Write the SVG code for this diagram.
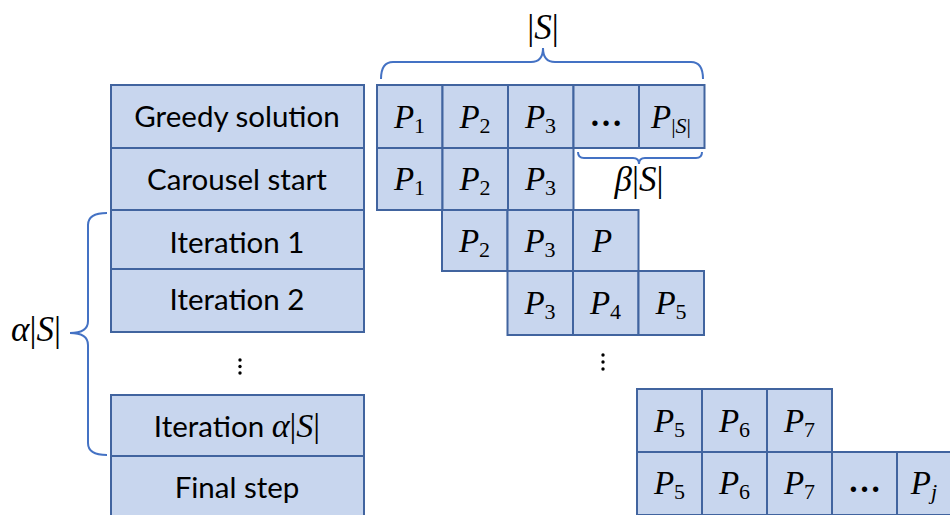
<svg xmlns="http://www.w3.org/2000/svg" width="950" height="515" viewBox="0 0 950 515">
<style>
.box{fill:#C8D6EE;stroke:#41649F;stroke-width:2}
.lbl{font-family:Lato,"Open Sans",sans-serif;font-size:29.5px;fill:#000;text-anchor:middle}
.m{font-family:"Liberation Serif",serif;font-size:33px;fill:#000;text-anchor:middle}
.big{font-size:35px}
.i{font-style:italic}
.s{font-size:22px}
.brace{fill:none;stroke:#4472C4;stroke-width:2}
.dots{fill:#000}
</style>
<rect width="950" height="515" fill="#fff"/>
<g id="left-column">
<g id="greedy"><rect class="box" x="111" y="85" width="253" height="63"/><text class="lbl" x="237" y="127">Greedy solution</text></g>
<g id="carousel"><rect class="box" x="111" y="148" width="253" height="62"/><text class="lbl" x="237" y="190">Carousel start</text></g>
<g id="iter1"><rect class="box" x="111" y="210" width="253" height="59"/><text class="lbl" x="237" y="253">Iteration 1</text></g>
<g id="iter2"><rect class="box" x="111" y="269" width="253" height="63"/><text class="lbl" x="237" y="310">Iteration 2</text></g>
<g id="iterA"><rect class="box" x="111" y="395" width="253" height="61"/><text class="lbl" x="237" y="437">Iteration <tspan font-family="Liberation Serif" font-style="italic" font-size="34">α</tspan><tspan font-family="Liberation Serif" font-size="34">|</tspan><tspan font-family="Liberation Serif" font-style="italic" font-size="34">S</tspan><tspan font-family="Liberation Serif" font-size="34">|</tspan></text></g>
<g id="final"><rect class="box" x="111" y="456" width="253" height="62"/><text class="lbl" x="237" y="498">Final step</text></g>
<g id="vdots-left"><circle class="dots" cx="240" cy="360" r="1.7"/><circle class="dots" cx="240" cy="366.5" r="1.7"/><circle class="dots" cx="240" cy="373" r="1.7"/></g>
</g>
<g id="grid">
<g id="row1">
<rect class="box" x="377" y="85" width="65.5" height="63"/><text class="m" x="409.5" y="128"><tspan class="i">P</tspan><tspan class="s" dy="5">1</tspan></text>
<rect class="box" x="442.5" y="85" width="65.5" height="63"/><text class="m" x="475" y="128"><tspan class="i">P</tspan><tspan class="s" dy="5">2</tspan></text>
<rect class="box" x="508" y="85" width="65.5" height="63"/><text class="m" x="540.5" y="128"><tspan class="i">P</tspan><tspan class="s" dy="5">3</tspan></text>
<rect class="box" x="573.5" y="85" width="65.5" height="63"/><text class="m" x="606" y="126" font-size="24" font-weight="bold">…</text>
<rect class="box" x="639" y="85" width="65.5" height="63"/><text class="m" x="671" y="128"><tspan class="i">P</tspan><tspan class="s" dy="5">|</tspan><tspan class="s i">S</tspan><tspan class="s">|</tspan></text>
</g>
<g id="row2">
<rect class="box" x="377" y="148" width="65.5" height="62"/><text class="m" x="409.5" y="190"><tspan class="i">P</tspan><tspan class="s" dy="5">1</tspan></text>
<rect class="box" x="442.5" y="148" width="65.5" height="62"/><text class="m" x="475" y="190"><tspan class="i">P</tspan><tspan class="s" dy="5">2</tspan></text>
<rect class="box" x="508" y="148" width="65.5" height="62"/><text class="m" x="540.5" y="190"><tspan class="i">P</tspan><tspan class="s" dy="5">3</tspan></text>
</g>
<g id="row3">
<rect class="box" x="442" y="210" width="65.5" height="61"/><text class="m" x="474.5" y="252"><tspan class="i">P</tspan><tspan class="s" dy="5">2</tspan></text>
<rect class="box" x="507.5" y="210" width="65.5" height="61"/><text class="m" x="540" y="252"><tspan class="i">P</tspan><tspan class="s" dy="5">3</tspan></text>
<rect class="box" x="573" y="210" width="65.5" height="61"/><text class="m i" x="602" y="252">P</text>
</g>
<g id="row4">
<rect class="box" x="507.5" y="271" width="65.5" height="64"/><text class="m" x="540" y="314"><tspan class="i">P</tspan><tspan class="s" dy="5">3</tspan></text>
<rect class="box" x="573" y="271" width="65.5" height="64"/><text class="m" x="605.5" y="314"><tspan class="i">P</tspan><tspan class="s" dy="5">4</tspan></text>
<rect class="box" x="638.5" y="271" width="65.5" height="64"/><text class="m" x="671" y="314"><tspan class="i">P</tspan><tspan class="s" dy="5">5</tspan></text>
</g>
<g id="vdots-grid"><circle class="dots" cx="603" cy="355" r="1.7"/><circle class="dots" cx="603" cy="362" r="1.7"/><circle class="dots" cx="603" cy="369" r="1.7"/></g>
<g id="row5">
<rect class="box" x="637" y="389" width="65" height="63"/><text class="m" x="669.5" y="432"><tspan class="i">P</tspan><tspan class="s" dy="5">5</tspan></text>
<rect class="box" x="702" y="389" width="65" height="63"/><text class="m" x="734.5" y="432"><tspan class="i">P</tspan><tspan class="s" dy="5">6</tspan></text>
<rect class="box" x="767" y="389" width="65" height="63"/><text class="m" x="799.5" y="432"><tspan class="i">P</tspan><tspan class="s" dy="5">7</tspan></text>
</g>
<g id="row6">
<rect class="box" x="637" y="452" width="65" height="63"/><text class="m" x="669.5" y="494"><tspan class="i">P</tspan><tspan class="s" dy="5">5</tspan></text>
<rect class="box" x="702" y="452" width="65" height="63"/><text class="m" x="734.5" y="494"><tspan class="i">P</tspan><tspan class="s" dy="5">6</tspan></text>
<rect class="box" x="767" y="452" width="65" height="63"/><text class="m" x="799.5" y="494"><tspan class="i">P</tspan><tspan class="s" dy="5">7</tspan></text>
<rect class="box" x="832" y="452" width="65" height="63"/><text class="m" x="864.5" y="492" font-size="24" font-weight="bold">…</text>
<rect class="box" x="897" y="452" width="65" height="63"/><text class="m" x="924" y="494"><tspan class="i">P</tspan><tspan class="s i" dy="5">j</tspan></text>
</g>
</g>
<g id="braces">
<path class="brace" d="M381,79 Q381,62 393,62 L531,62 Q543,62 543,48 Q543,62 555,62 L691,62 Q703,62 703,79"/>
<path class="brace" d="M578,152 Q578,158 584,158 L633,158 Q639,158 639,164 Q639,158 645,158 L696,158 Q702,158 702,152"/>
<path class="brace" d="M107,213 Q88,213 88,225 L88,321 Q88,333 70,333 Q88,333 88,345 L88,443 Q88,455 107,455"/>
<text class="m big" x="543" y="39"><tspan>|</tspan><tspan class="i">S</tspan><tspan>|</tspan></text>
<text class="m big" x="639" y="191"><tspan class="i">β</tspan><tspan>|</tspan><tspan class="i">S</tspan><tspan>|</tspan></text>
<text class="m big" x="36" y="341"><tspan class="i">α</tspan><tspan>|</tspan><tspan class="i">S</tspan><tspan>|</tspan></text>
</g>
</svg>
